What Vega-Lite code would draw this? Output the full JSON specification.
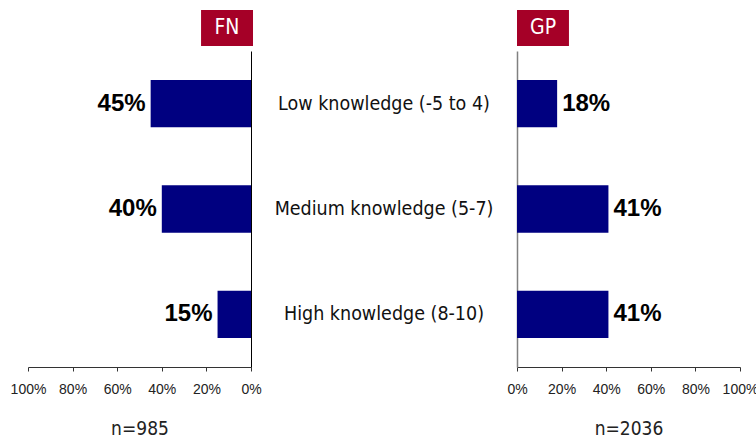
{
  "$schema": "https://vega.github.io/schema/vega-lite/v6.json",
  "padding": {"left": 10, "top": 10, "right": 0, "bottom": 0},
  "background": "white",
  "datasets": {
    "d": [
      {"category": "Low knowledge (-5 to 4)", "group": "FN", "pct": 0.45},
      {"category": "Medium knowledge (5-7)", "group": "FN", "pct": 0.40},
      {"category": "High knowledge (8-10)", "group": "FN", "pct": 0.15},
      {"category": "Low knowledge (-5 to 4)", "group": "GP", "pct": 0.18},
      {"category": "Medium knowledge (5-7)", "group": "GP", "pct": 0.41},
      {"category": "High knowledge (8-10)", "group": "GP", "pct": 0.41}
    ],
    "h": [{"label": "FN", "side": "left"}, {"label": "GP", "side": "right"}]
  },
  "columns": 3,
  "spacing": {"row": 5, "column": 0},
  "bounds": "flush",
  "concat": [
    {
      "width": 223, "height": 36,
      "data": {"name": "h"},
      "transform": [{"filter": "datum.side === 'left'"}],
      "layer": [
        {"mark": {"type": "rect", "color": "#A50027"},
         "encoding": {
           "x": {"datum": 0.224, "type": "quantitative", "scale": {"domain": [0, 1], "reverse": true}, "axis": null},
           "x2": {"datum": -0.009}
         }},
        {"mark": {"type": "text", "color": "white", "font": "'DejaVu Sans Condensed', Roboto, sans-serif", "fontSize": 21},
         "encoding": {
           "x": {"datum": 0.108, "type": "quantitative"},
           "text": {"field": "label"}
         }}
      ]
    },
    {
      "width": 266, "height": 36,
      "data": {"name": "h"},
      "transform": [{"filter": "datum.side === 'none'"}],
      "mark": {"type": "text"},
      "encoding": {"text": {"field": "label"}}
    },
    {
      "width": 223, "height": 36,
      "data": {"name": "h"},
      "transform": [{"filter": "datum.side === 'right'"}],
      "layer": [
        {"mark": {"type": "rect", "color": "#A50027"},
         "encoding": {
           "x": {"datum": 0, "type": "quantitative", "scale": {"domain": [0, 1]}, "axis": null},
           "x2": {"datum": 0.233}
         }},
        {"mark": {"type": "text", "color": "white", "font": "'DejaVu Sans Condensed', Roboto, sans-serif", "fontSize": 21},
         "encoding": {
           "x": {"datum": 0.117, "type": "quantitative"},
           "text": {"field": "label"}
         }}
      ]
    },
    {
      "width": 223, "height": 316,
      "data": {"name": "d"},
      "transform": [{"filter": "datum.group === 'FN'"}],
      "encoding": {
        "y": {"field": "category", "type": "nominal", "sort": null,
              "scale": {"domain": ["Low knowledge (-5 to 4)", "Medium knowledge (5-7)", "High knowledge (8-10)"], "paddingInner": 0.55, "paddingOuter": 0.275},
              "axis": {"orient": "right", "labels": false, "ticks": false, "title": null, "domainColor": "#000000", "domainWidth": 1}},
        "x": {"field": "pct", "type": "quantitative",
              "scale": {"domain": [0, 1], "reverse": true},
              "axis": {"format": ".0%", "values": [0, 0.2, 0.4, 0.6, 0.8, 1], "title": "n=985"}}
      },
      "layer": [
        {"mark": {"type": "bar", "color": "#000080"}},
        {"mark": {"type": "text", "align": "right", "dx": -5, "fontWeight": "bold", "fontSize": 24, "font": "Liberation Sans", "color": "#000000"},
         "encoding": {"text": {"field": "pct", "format": ".0%"}}}
      ]
    },
    {
      "width": 266, "height": 316,
      "data": {"name": "d"},
      "transform": [{"filter": "datum.group === 'FN'"}],
      "mark": {"type": "text", "font": "'DejaVu Sans Condensed', Roboto, sans-serif", "fontSize": 19.5, "color": "#111111"},
      "encoding": {
        "y": {"field": "category", "type": "nominal", "sort": null,
              "scale": {"domain": ["Low knowledge (-5 to 4)", "Medium knowledge (5-7)", "High knowledge (8-10)"], "paddingInner": 0.55, "paddingOuter": 0.275},
              "axis": null},
        "text": {"field": "category"}
      }
    },
    {
      "width": 223, "height": 316,
      "data": {"name": "d"},
      "transform": [{"filter": "datum.group === 'GP'"}],
      "encoding": {
        "y": {"field": "category", "type": "nominal", "sort": null,
              "scale": {"domain": ["Low knowledge (-5 to 4)", "Medium knowledge (5-7)", "High knowledge (8-10)"], "paddingInner": 0.55, "paddingOuter": 0.275},
              "axis": {"orient": "left", "labels": false, "ticks": false, "title": null, "domainColor": "#808080", "domainWidth": 1.5}},
        "x": {"field": "pct", "type": "quantitative",
              "scale": {"domain": [0, 1]},
              "axis": {"format": ".0%", "values": [0, 0.2, 0.4, 0.6, 0.8, 1], "title": "n=2036"}}
      },
      "layer": [
        {"mark": {"type": "bar", "color": "#000080"}},
        {"mark": {"type": "text", "align": "left", "dx": 5, "fontWeight": "bold", "fontSize": 24, "font": "Liberation Sans", "color": "#000000"},
         "encoding": {"text": {"field": "pct", "format": ".0%"}}}
      ]
    }
  ],
  "config": {
    "view": {"stroke": null},
    "axis": {"grid": false},
    "axisX": {
      "labelFont": "Liberation Sans", "labelFontSize": 14, "labelColor": "#222222",
      "labelOverlap": false, "labelFlush": false,
      "tickColor": "#333333", "domainColor": "#333333", "tickSize": 4, "labelPadding": 11,
      "titleFont": "'DejaVu Sans Condensed', Roboto, sans-serif", "titleFontSize": 19, "titleFontWeight": "normal",
      "titleColor": "#222222", "titlePadding": 23
    }
  }
}
